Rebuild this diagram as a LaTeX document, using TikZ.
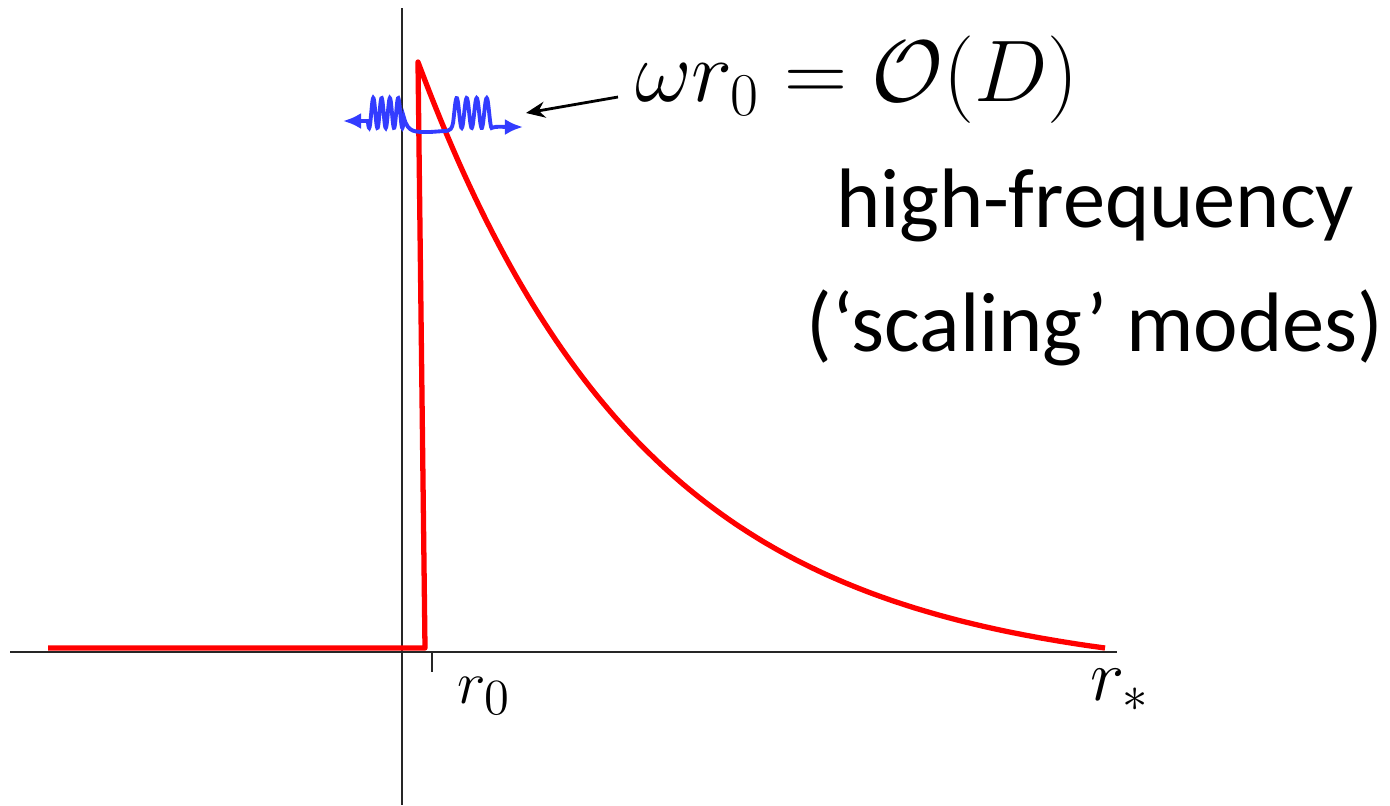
\documentclass[tikz,border=0pt]{standalone}
\usepackage{fontspec}
\setmainfont{Carlito}
\usetikzlibrary{arrows.meta}
\definecolor{wavecol}{RGB}{51,60,255}

\begin{document}
\begin{tikzpicture}[x=0.01cm, y=-0.01cm,
  axis/.style={line width=0.6pt, black!85},
  profile/.style={line width=1.5pt, red, line join=round},
  wave/.style={line width=1.1pt, wavecol, {Latex[length=1.8mm,width=1.6mm]}-{Latex[length=1.8mm,width=1.6mm]}},
  pointer/.style={line width=0.8pt, -{Stealth[length=1.9mm,width=1.6mm]}},
  label/.style={inner sep=0pt, font=\fontsize{24}{28}\selectfont}
]
  \useasboundingbox (0,0) rectangle (1390,805);

  % axes
  \coordinate (xl) at (10,652);
  \coordinate (xr) at (1117,652);
  \coordinate (yt) at (402,8);
  \coordinate (yb) at (402,805);
  \draw[axis] (xl) -- (xr);
  \draw[axis] (yt) -- (yb);
  \coordinate (tick) at (432,652);
  \draw[axis] (tick) -- ++(0,20);

  \node[inner sep=0pt, font=\fontsize{19}{22}\selectfont] (rzero) at (484,696) {$r_0$};
  \node[inner sep=0pt, font=\fontsize{22}{26}\selectfont] (rstar) at (1120,690) {$r_*$};

  % red profile
  \draw[profile] (48,648) -- (425,648) -- (418,62)
    -- plot[domain=418:1105, samples=120] (\x,{648-617*(exp(-(\x-418)/230)-0.0504)});

  % wave packets
  \coordinate (wl) at (343,121);
  \coordinate (wr) at (523,127);
  \draw[wave] (wl) -- (368,121)
    -- plot[domain=368:404, samples=90] (\x,{113-15*cos(360*(\x-373.3)/8.3)})
    .. controls (408,133) and (415,132) .. (430,132) -- (444,131)
    .. controls (451,131) and (452,128) .. (453,123)
    -- plot[domain=453:492, samples=90] (\x,{113-15*cos(360*(\x-456.7)/10)})
    .. controls (496,126) and (505,127) .. (wr);

  % annotation
  \node[inner sep=0pt, font=\fontsize{25}{30}\selectfont] (relation) at (857,80) {$\omega r_0 = \mathcal{O}(D)$};
  \coordinate (tail) at (618,97);
  \coordinate (head) at (526,113);
  \draw[pointer] (tail) -- (head);

  \node[label] (freq) at (1095,205) {high-frequency};
  \node[label] (scal) at (1095,328) {(‘scaling’ modes)};
\end{tikzpicture}
\end{document}
